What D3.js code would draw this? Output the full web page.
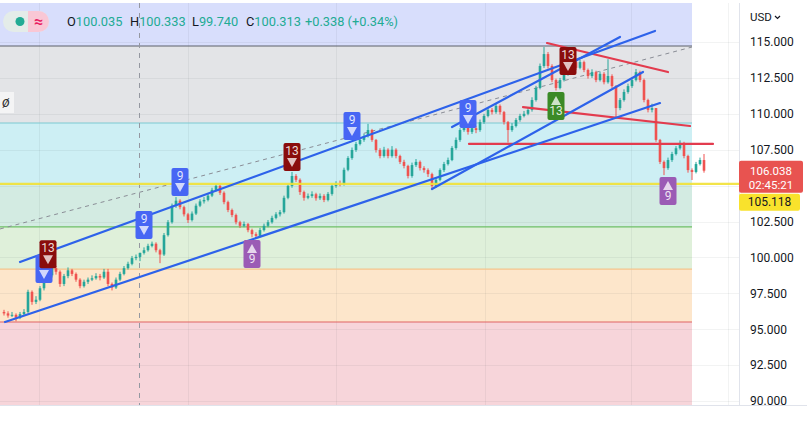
<!DOCTYPE html>
<html>
<head>
<meta charset="utf-8">
<script src="https://cdn.jsdelivr.net/npm/d3@7/dist/d3.min.js"></script>
<style>
  html, body { margin: 0; padding: 0; background: #ffffff; }
  svg { display: block; font-family: Roboto, "Noto Sans", sans-serif; }
</style>
</head>
<body>
<svg id="chart" width="807" height="425"></svg>
<script>
// ---- Daily candles (open of each bar = previous close) ----
const firstOpen = 96.20;
const closes = [
  96.10, 95.95, 96.00, 95.80, 96.05, 96.20, 97.60, 96.90, 97.05, 97.85,
  98.40, 98.75, 99.25, 99.00, 98.15, 98.70, 99.10, 98.85, 98.45, 98.00,
  98.30, 98.45, 98.55, 98.70, 98.60, 99.00, 98.15, 97.90, 98.45, 98.85,
  99.25, 99.55, 99.95, 100.035, 100.313, 100.50, 100.80, 100.95, 100.50, 100.20,
  101.55, 102.45, 103.60, 103.95, 103.50, 103.00, 102.60, 103.05, 103.60, 103.90,
  104.00, 104.30, 104.70, 104.98, 104.50, 103.85, 103.30, 102.95, 102.45, 102.20,
  102.32, 101.90, 101.62, 101.50, 101.90, 102.20, 102.45, 102.75, 103.00, 103.15,
  104.15, 104.98, 105.67, 105.40, 104.55, 104.15, 104.28, 104.40, 104.12, 104.28,
  104.00, 104.42, 104.98, 105.12, 105.10, 106.10, 106.92, 107.48, 107.90, 108.18,
  108.45, 108.87, 108.18, 107.48, 107.06, 107.50, 107.06, 107.50, 107.06, 106.65,
  106.37, 105.67, 106.43, 106.65, 106.22, 106.08, 105.80, 104.98, 105.40, 106.08,
  106.50, 106.78, 107.62, 108.18, 108.87, 109.15, 108.74, 109.00, 108.87, 109.42,
  109.85, 110.27, 110.12, 110.55, 110.12, 109.42, 108.87, 109.15, 109.57, 109.85,
  110.00, 110.27, 110.96, 111.80, 113.33, 114.16, 113.33, 112.35, 111.80, 112.35,
  112.78, 113.33, 113.60, 113.20, 113.60, 113.05, 112.63, 112.90, 112.35, 112.78,
  112.20, 112.63, 111.93, 110.40, 110.96, 111.52, 111.93, 112.35, 112.90, 112.35,
  110.96, 110.27, 110.40, 108.18, 106.65, 106.22, 106.78, 107.20, 107.60, 107.97,
  107.06, 106.08, 105.95, 106.50, 106.78, 106.038
];
const highs = [
  96.35, 96.25, 96.20, 96.10, 96.20, 96.40, 97.75, 97.70, 97.30, 98.00,
  98.55, 98.95, 99.45, 99.40, 99.10, 98.85, 99.30, 99.20, 98.95, 98.55,
  98.45, 98.60, 98.75, 98.90, 98.85, 99.20, 99.20, 98.25, 98.60, 99.00,
  99.40, 99.70, 100.10, 100.20, 100.333, 100.70, 100.95, 101.10, 101.05, 100.60,
  101.70, 102.60, 103.75, 104.20, 104.05, 103.60, 103.10, 103.20, 103.75, 104.05,
  104.20, 104.45, 104.85, 105.10, 105.05, 104.60, 103.95, 103.40, 103.05, 102.55,
  102.50, 102.40, 102.00, 101.75, 102.05, 102.35, 102.60, 102.90, 103.15, 103.30,
  104.30, 105.10, 105.95, 105.80, 105.50, 104.65, 104.45, 104.60, 104.50, 104.45,
  104.40, 104.55, 105.10, 105.30, 105.35, 106.25, 107.05, 107.65, 108.05, 108.35,
  108.60, 109.30, 108.95, 108.25, 107.60, 107.70, 107.60, 107.75, 107.60, 107.15,
  106.80, 106.45, 106.60, 106.85, 106.75, 106.35, 106.20, 105.90, 105.55, 106.20,
  106.65, 106.95, 107.75, 108.35, 109.00, 109.30, 109.25, 109.20, 109.15, 109.60,
  110.00, 110.45, 110.40, 110.75, 110.65, 110.20, 109.50, 109.35, 109.70, 110.00,
  110.20, 110.45, 111.15, 111.95, 113.50, 114.65, 114.30, 113.45, 112.45, 112.50,
  112.95, 113.50, 113.80, 113.70, 113.75, 113.70, 113.15, 113.10, 113.00, 112.95,
  112.90, 113.80, 112.75, 112.00, 111.10, 111.70, 112.10, 112.50, 113.12, 113.00,
  112.45, 111.05, 110.70, 110.40, 108.25, 106.75, 106.95, 107.35, 107.75, 108.15,
  108.05, 107.15, 106.20, 106.65, 106.95, 107.20
];
const lows = [
  95.95, 95.80, 95.85, 95.55, 95.70, 95.95, 96.10, 96.70, 96.75, 96.95,
  97.70, 98.25, 98.60, 98.80, 97.95, 98.00, 98.55, 98.70, 98.30, 97.85,
  97.90, 98.15, 98.35, 98.45, 98.40, 98.50, 98.00, 97.70, 97.80, 98.35,
  98.75, 99.15, 99.45, 99.80, 99.740, 100.20, 100.40, 100.70, 100.35, 99.60,
  100.10, 101.45, 102.35, 103.45, 103.35, 102.85, 102.40, 102.50, 102.95, 103.50,
  103.75, 103.90, 104.20, 104.60, 104.35, 103.70, 103.15, 102.80, 102.30, 102.05,
  102.10, 101.75, 101.40, 101.35, 101.40, 101.80, 102.10, 102.35, 102.65, 102.85,
  103.05, 104.05, 104.85, 105.25, 104.35, 103.95, 104.05, 104.15, 103.95, 104.00,
  103.85, 103.90, 104.30, 104.85, 104.95, 105.00, 106.00, 106.80, 107.35, 107.80,
  108.05, 108.35, 108.05, 107.30, 106.90, 106.95, 106.90, 106.95, 106.90, 106.50,
  106.20, 105.50, 105.55, 106.30, 106.05, 105.90, 105.60, 104.70, 104.85, 105.30,
  105.95, 106.40, 106.70, 107.50, 108.05, 108.75, 108.55, 108.60, 108.65, 108.75,
  109.30, 109.75, 109.95, 110.00, 109.95, 109.25, 108.00, 108.75, 109.05, 109.45,
  109.75, 109.90, 110.15, 110.85, 111.70, 113.20, 113.15, 112.20, 111.62, 111.70,
  112.25, 112.65, 113.20, 113.05, 113.10, 112.90, 112.45, 112.50, 112.20, 112.25,
  112.05, 112.10, 111.80, 109.70, 110.25, 110.85, 111.40, 111.80, 112.25, 112.20,
  110.80, 110.10, 110.10, 108.05, 106.50, 105.73, 106.10, 106.65, 107.10, 107.50,
  106.90, 105.90, 105.39, 105.85, 106.40, 105.90
];

// ---- Price axis ----
const priceTicks = [115, 112.5, 110, 107.5, 105, 102.5, 100, 97.5, 95, 92.5, 90];
const timeGridIdx = [8.75, 46, 83, 120.25, 156.75, 181];

// ---- Retracement zones (edges and fills, top to bottom) ----
const zoneLevels = [114.72, 109.36, 105.118, 102.12, 99.19, 95.50];
const zoneFills = ["#d8defc", "#e3e4e7", "#cdeff4", "#d3ebe2", "#dff0da", "#fde6cb", "#f7d5da"];
const zoneLines = ["#5d606b", "#7dc9d1", "#f0e040", "#6fbf66", "#f4c48c", "#e06565"];

// ---- Drawn trend lines: [startIdx, startPrice, endIdx, endPrice] ----
const blueLines = [
  [0.25, 95.50, 164, 110.75],
  [4, 99.68, 162.75, 115.77],
  [107, 104.76, 159.75, 112.91],
  [112, 109.08, 154, 115.35]
];
const redLines = [
  [116.25, 107.90, 177.25, 107.90],
  [129.75, 110.47, 171.5, 109.15],
  [135.75, 114.93, 166, 112.91]
];
const dashedLine = [-1, 101.98, 172, 114.65];
const hLinePrice = 105.118;

// ---- Sequential count markers: idx, anchor price, label, direction, colour ----
const markers = [
  { i: 10, p: 98.21, t: "9", dir: "down", c: "#4766f4" },
  { i: 11, p: 99.25, t: "13", dir: "down", c: "#8a0c0c" },
  { i: 35, p: 101.28, t: "9", dir: "down", c: "#4766f4" },
  { i: 44, p: 104.27, t: "9", dir: "down", c: "#4766f4" },
  { i: 62, p: 101.21, t: "9", dir: "up", c: "#9b5bb5" },
  { i: 72, p: 106.02, t: "13", dir: "down", c: "#8a0c0c" },
  { i: 87, p: 108.18, t: "9", dir: "down", c: "#4766f4" },
  { i: 116, p: 109.01, t: "9", dir: "down", c: "#4766f4" },
  { i: 138, p: 111.52, t: "13", dir: "up", c: "#3b8a26" },
  { i: 141, p: 112.70, t: "13", dir: "down", c: "#8a0c0c" },
  { i: 166, p: 105.60, t: "9", dir: "up", c: "#9b5bb5" }
];

const legend = { o: "100.035", h: "100.333", l: "99.740", c: "100.313", chg: "+0.338 (+0.34%)" };
const lastPrice = 106.038;
const countdown = "02:45:21";
const crossIdx = 33.75;

// ---- Layout ----
const W = 807, H = 425;
const plotL = 0, plotR = 739, plotT = 3, plotB = 405;
const svg = d3.select("#chart");

const x = d3.scaleLinear().domain([0, closes.length - 1]).range([4, 704]);
const y = d3.scaleLinear().domain([90, 115]).range([401, 42]);

const candles = closes.map((c, i) => ({
  i, o: i === 0 ? firstOpen : closes[i - 1], c, h: highs[i], l: lows[i]
}));

svg.append("rect").attr("width", W).attr("height", H).attr("fill", "#ffffff");
svg.append("clipPath").attr("id", "plotClip")
  .append("rect").attr("x", plotL).attr("y", plotT).attr("width", plotR - plotL).attr("height", plotB - plotT);
const g = svg.append("g").attr("clip-path", "url(#plotClip)");

// zones
const zoneX0 = x(-1), zoneX1 = x(172);
const edges = [y.invert(plotT), ...zoneLevels, y.invert(plotB)];
zoneFills.forEach((f, k) => {
  g.append("rect")
    .attr("x", zoneX0).attr("width", zoneX1 - zoneX0)
    .attr("y", y(edges[k])).attr("height", y(edges[k + 1]) - y(edges[k]))
    .attr("fill", f);
});

// grid
g.selectAll(".hgrid").data(priceTicks).join("line")
  .attr("x1", plotL).attr("x2", plotR)
  .attr("y1", d => Math.round(y(d)) + 0.5).attr("y2", d => Math.round(y(d)) + 0.5)
  .attr("stroke", "rgba(42,46,57,0.06)");
g.selectAll(".vgrid").data(timeGridIdx).join("line")
  .attr("x1", d => Math.round(x(d)) + 0.5).attr("x2", d => Math.round(x(d)) + 0.5)
  .attr("y1", plotT).attr("y2", plotB)
  .attr("stroke", "rgba(42,46,57,0.06)");

// zone edge lines
zoneLevels.forEach((p, k) => {
  if (p === hLinePrice) return;
  g.append("line")
    .attr("x1", zoneX0).attr("x2", zoneX1)
    .attr("y1", y(p)).attr("y2", y(p))
    .attr("stroke", zoneLines[k]).attr("stroke-width", 1.2);
});

// dashed guide
g.append("line")
  .attr("x1", x(dashedLine[0])).attr("y1", y(dashedLine[1]))
  .attr("x2", x(dashedLine[2])).attr("y2", y(dashedLine[3]))
  .attr("stroke", "#8a8d96").attr("stroke-width", 1).attr("stroke-dasharray", "4,4");

// crosshair
g.append("line")
  .attr("x1", Math.round(x(crossIdx)) + 0.5).attr("x2", Math.round(x(crossIdx)) + 0.5)
  .attr("y1", plotT).attr("y2", plotB)
  .attr("stroke", "#9598a1").attr("stroke-dasharray", "5,5");

// candles
const up = "#26a69a", down = "#ef5350";
const cg = g.append("g");
cg.selectAll(".wick").data(candles).join("line")
  .attr("x1", d => x(d.i)).attr("x2", d => x(d.i))
  .attr("y1", d => y(d.h)).attr("y2", d => y(d.l))
  .attr("stroke", d => d.c >= d.o ? up : down).attr("stroke-width", 1);
cg.selectAll(".body").data(candles).join("rect")
  .attr("x", d => x(d.i) - 1.3).attr("width", 2.6)
  .attr("y", d => y(Math.max(d.o, d.c)))
  .attr("height", d => Math.max(1, Math.abs(y(d.o) - y(d.c))))
  .attr("fill", d => d.c >= d.o ? up : down);

// horizontal level
g.append("line")
  .attr("x1", plotL).attr("x2", plotR)
  .attr("y1", y(hLinePrice)).attr("y2", y(hLinePrice))
  .attr("stroke", "#f2e236").attr("stroke-width", 2.2).attr("opacity", 0.9);

// trend lines
const drawSeg = (arr, color) => arr.forEach(s => {
  g.append("line")
    .attr("x1", x(s[0])).attr("y1", y(s[1]))
    .attr("x2", x(s[2])).attr("y2", y(s[3]))
    .attr("stroke", color).attr("stroke-width", 2.2).attr("stroke-linecap", "round");
});
drawSeg(redLines, "#e33b4e");
drawSeg(blueLines, "#2d62ea");

// markers
const mw = 17, mh = 28;
markers.forEach(m => {
  const cx = x(m.i);
  const top = m.dir === "down" ? y(m.p) - mh : y(m.p);
  const mg = g.append("g");
  mg.append("rect").attr("x", cx - mw / 2).attr("y", top).attr("width", mw).attr("height", mh)
    .attr("rx", 2).attr("fill", m.c);
  const numY = m.dir === "down" ? top + 12 : top + 23;
  const triTop = m.dir === "down" ? top + 15 : top + 4;
  mg.append("text").attr("x", cx).attr("y", numY)
    .attr("text-anchor", "middle").attr("font-size", 12)
    .attr("fill", "rgba(255,255,255,0.85)").text(m.t);
  const tri = m.dir === "down"
    ? `M${cx - 5},${triTop} L${cx + 5},${triTop} L${cx},${triTop + 9} Z`
    : `M${cx - 5},${triTop + 9} L${cx + 5},${triTop + 9} L${cx},${triTop} Z`;
  mg.append("path").attr("d", tri).attr("fill", "rgba(255,255,255,0.75)");
});

// legend row
const lg = svg.append("g");
lg.append("rect").attr("x", 3).attr("y", 11).attr("width", 46).attr("height", 21).attr("rx", 10.5).attr("fill", "#e4ece9");
lg.append("path").attr("d", "M28,11 H38.5 A10.5,10.5 0 0 1 38.5,32 H28 Z").attr("fill", "#f9c7d5");
lg.append("circle").attr("cx", 20).attr("cy", 21.5).attr("r", 4.5).attr("fill", "#22ab94");
lg.append("text").attr("x", 38.5).attr("y", 26.5).attr("text-anchor", "middle")
  .attr("font-size", 16).attr("font-weight", "bold").attr("fill", "#e91e63").text("≈");
const legendItems = [["O", legend.o, 67], ["H", legend.h, 130], ["L", legend.l, 192], ["C", legend.c, 246]];
legendItems.forEach(([k, v, lx]) => {
  const t = lg.append("text").attr("x", lx).attr("y", 26).attr("font-size", 12.8);
  t.append("tspan").attr("fill", "#131722").text(k);
  t.append("tspan").attr("fill", "#22ab94").text(v);
});
lg.append("text").attr("x", 305).attr("y", 26).attr("font-size", 12.8).attr("fill", "#22ab94").text(legend.chg);

// visibility toggle glyph
svg.append("rect").attr("x", 0).attr("y", 92).attr("width", 14).attr("height", 21).attr("fill", "rgba(255,255,255,0.6)");
svg.append("text").attr("x", 2).attr("y", 107).attr("font-size", 14).attr("font-style", "italic")
  .attr("fill", "#333").text("ø");

// axis frame
svg.append("line").attr("x1", plotR + 0.5).attr("x2", plotR + 0.5).attr("y1", plotT).attr("y2", plotB)
  .attr("stroke", "#e0e3eb");
svg.append("line").attr("x1", 0).attr("x2", W).attr("y1", plotB + 0.5).attr("y2", plotB + 0.5)
  .attr("stroke", "#e0e3eb");

// price axis
const axis = d3.axisRight(y).tickValues(priceTicks).tickFormat(d3.format(".3f")).tickSize(0).tickPadding(11);
const ag = svg.append("g").attr("transform", `translate(${plotR},0)`).call(axis);
ag.select(".domain").remove();
ag.selectAll("text").attr("font-size", 12).attr("fill", "#131722").attr("font-family", "Roboto, sans-serif");

svg.append("text").attr("x", 750).attr("y", 21).attr("font-size", 11.5).attr("fill", "#131722").text("USD");
svg.append("path").attr("d", "M775,16 L777.5,18.5 L780,16").attr("fill", "none").attr("stroke", "#131722").attr("stroke-width", 1.2);

// last price + countdown
const lpY = y(lastPrice);
svg.append("rect").attr("x", plotR).attr("y", lpY - 10).attr("width", 64).attr("height", 32).attr("rx", 2).attr("fill", "#e85350");
svg.append("text").attr("x", plotR + 32).attr("y", lpY + 4).attr("text-anchor", "middle").attr("font-size", 11.5).attr("fill", "#ffffff").text(d3.format(".3f")(lastPrice));
svg.append("text").attr("x", plotR + 32).attr("y", lpY + 18.5).attr("text-anchor", "middle").attr("font-size", 11.5).attr("fill", "#ffffff").text(countdown);

const hlTop = lpY + 23;
svg.append("rect").attr("x", plotR).attr("y", hlTop).attr("width", 61).attr("height", 17).attr("rx", 2).attr("fill", "#f9e22c");
svg.append("text").attr("x", plotR + 30.5).attr("y", hlTop + 12.5).attr("text-anchor", "middle").attr("font-size", 12).attr("fill", "#131722").text(d3.format(".3f")(hLinePrice));
</script>
</body>
</html>
